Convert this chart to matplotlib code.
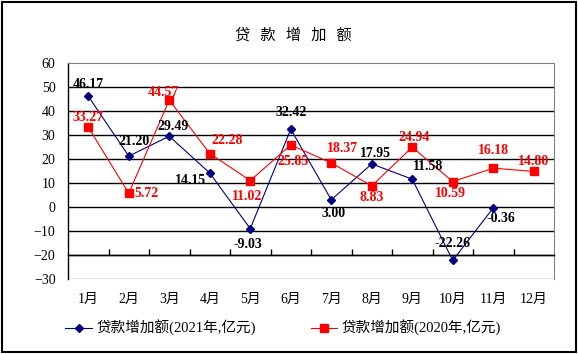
import matplotlib.pyplot as plt
from matplotlib.patches import Rectangle

months = ["1月", "2月", "3月", "4月", "5月", "6月", "7月", "8月", "9月", "10月", "11月", "12月"]
loans_2021 = [46.17, 21.20, 29.49, 14.15, -9.03, 32.42, 3.00, 17.95, 11.58, -22.26, -0.36]
loans_2020 = [33.27, 5.72, 44.57, 22.28, 11.02, 25.85, 18.37, 8.83, 24.94, 10.59, 16.18, 14.80]

# label offsets in pixels (dx, dy)
off_2021 = [(0, 12), (5, 15), (4, 10), (-19, -7), (-2, -16), (0, 17),
            (2, -14), (4, 10), (16, 13), (0, 17), (8, -11)]
off_2020 = [(0, 10), (18, 0), (-6, 8), (17, 13), (-3, -16), (2, -17),
            (11, 14), (0, -12), (2, 10), (-2, -12), (0, 18), (0, 10)]

fam = ["Liberation Serif", "Noto Sans CJK SC"]
plt.rcParams["font.family"] = fam

fig = plt.figure(figsize=(5.78, 3.54), dpi=100)
W, H = 578, 354
ax = fig.add_axes([68 / W, 1 - 279 / H, (554 - 68) / W, (279 - 63) / H])

x21 = list(range(len(loans_2021)))
x20 = list(range(len(loans_2020)))
ax.plot(x21, loans_2021, color="#000080", lw=0.8, marker="D", ms=4.5,
        label="贷款增加额(2021年,亿元)", zorder=3)
ax.plot(x20, loans_2020, color="#FF0000", lw=0.8, marker="s", ms=6,
        label="贷款增加额(2020年,亿元)", zorder=3)

for xi, v, o in zip(x21, loans_2021, off_2021):
    ax.annotate(f"{v:.2f}", (xi, v), xytext=o, textcoords="offset pixels",
                ha="center", va="center", fontsize=10, fontweight="bold",
                color="black", zorder=4)
for xi, v, o in zip(x20, loans_2020, off_2020):
    ax.annotate(f"{v:.2f}", (xi, v), xytext=o, textcoords="offset pixels",
                ha="center", va="center", fontsize=10, fontweight="bold",
                color="#FF0000", zorder=4)

ax.set_xlim(-0.5, 11.5)
ax.set_ylim(-30, 60)
ax.set_yticks(range(-30, 61, 10))
for y in range(-20, 51, 10):
    ax.axhline(y, color="black", lw=1, zorder=1)
ax.axhline(-30, color="#808080", lw=1, zorder=1)

ax.spines["bottom"].set_position(("data", -20))
ax.spines["bottom"].set_linewidth(1)
ax.spines["left"].set_linewidth(1)
ax.spines["top"].set_color("#808080")
ax.spines["right"].set_color("#808080")

ax.set_xticks(range(12))
ax.set_xticklabels(months, fontsize=10)
ax.tick_params(axis="x", which="major", length=0, pad=27)
ax.set_xticks([i + 0.5 for i in range(11)], minor=True)
ax.tick_params(axis="x", which="minor", direction="in", length=4, width=1)
ax.tick_params(axis="y", length=0, pad=9, labelsize=10)

fig.text(0.507, 1 - 35 / H, "贷   款   增   加   额", ha="center", va="center",
         fontsize=11, family="Noto Sans CJK SC")

fig.legend(loc="center", bbox_to_anchor=(0.49, 1 - 328 / H), ncol=2,
           frameon=False, fontsize=10.5, handlelength=1.8, handletextpad=0.3,
           columnspacing=3.8)

fig.patches.append(Rectangle((2 / W, 2 / H), 1 - 4 / W, 1 - 4 / H,
                             transform=fig.transFigure, fill=False,
                             edgecolor="black", lw=1.5))

fig.savefig("out.png", dpi=100)
